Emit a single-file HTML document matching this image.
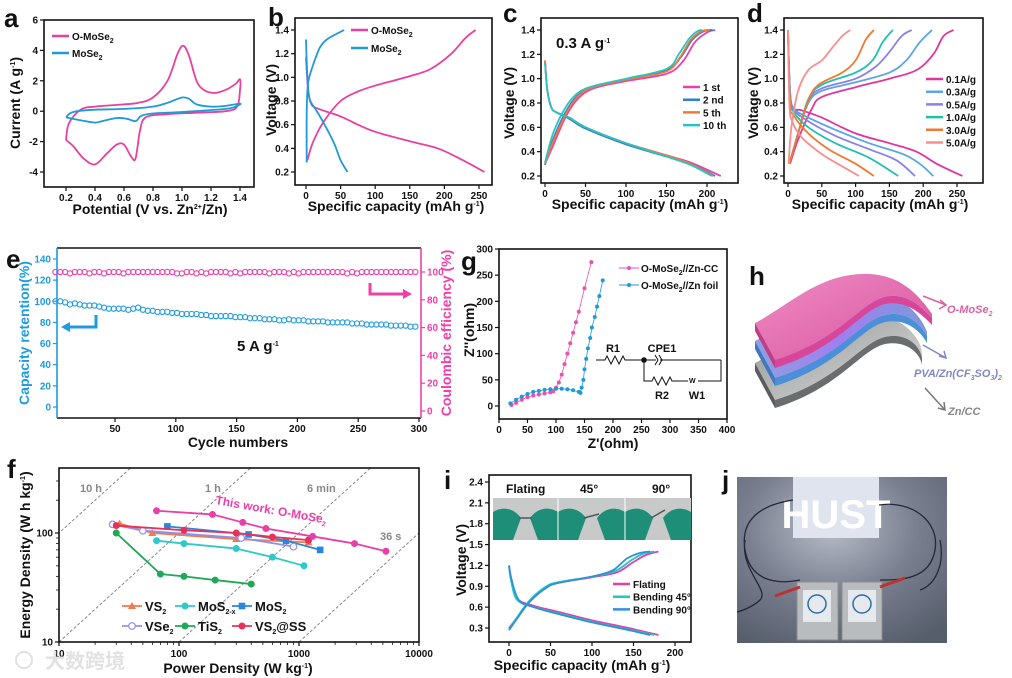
<!DOCTYPE html>
<html><head><meta charset="utf-8">
<style>
html,body{margin:0;padding:0;background:#fff;}
svg{display:block;font-family:"Liberation Sans","Noto Sans CJK SC",sans-serif;}
text{font-weight:bold;}
</style></head>
<body>
<svg id="fig" width="1012" height="678" viewBox="0 0 1012 678" xmlns="http://www.w3.org/2000/svg">
<defs>
<clipPath id="clipF"><rect x="59" y="468" width="360" height="174"/></clipPath>
<linearGradient id="gPink" x1="0" y1="0" x2="1" y2="1"><stop offset="0" stop-color="#f08cc4"/><stop offset="1" stop-color="#d6539e"/></linearGradient>
<linearGradient id="gBlue" x1="0" y1="0" x2="1" y2="0"><stop offset="0" stop-color="#8ea0e0"/><stop offset="0.5" stop-color="#a07ef0"/><stop offset="1" stop-color="#7d9ad8"/></linearGradient>
<linearGradient id="gGray" x1="0" y1="0" x2="1" y2="1"><stop offset="0" stop-color="#6f7473"/><stop offset="1" stop-color="#d8dad9"/></linearGradient>
<radialGradient id="gPhoto" cx="0.45" cy="0.3" r="0.8"><stop offset="0" stop-color="#b9bdc9"/><stop offset="0.5" stop-color="#7a8090"/><stop offset="1" stop-color="#565d6b"/></radialGradient>
</defs>
</svg>
<script>
// ---------- DATA ----------
const cvO = [[0.2,-1.9],[0.22,-0.8],[0.3,0.1],[0.4,0.3],[0.6,0.45],[0.7,0.55],[0.8,0.9],[0.9,2.0],[0.97,3.8],[1.01,4.3],[1.05,3.6],[1.1,2.0],[1.15,1.4],[1.22,1.2],[1.3,1.4],[1.37,1.8],[1.4,2.1],[1.4,1.4],[1.38,0.3],[1.3,0.0],[1.1,-0.1],[0.9,-0.2],[0.75,-0.4],[0.71,-1.3],[0.68,-3.1],[0.65,-3.0],[0.6,-2.2],[0.55,-2.2],[0.48,-2.8],[0.4,-3.5],[0.32,-3.1],[0.25,-2.3],[0.2,-1.9]];
const cvM = [[0.2,-0.4],[0.25,-0.05],[0.4,0.1],[0.6,0.15],[0.8,0.3],[0.9,0.55],[1.0,0.9],[1.05,0.8],[1.1,0.45],[1.2,0.3],[1.3,0.35],[1.4,0.5],[1.38,0.35],[1.3,0.15],[1.0,-0.05],[0.8,-0.15],[0.72,-0.3],[0.68,-0.65],[0.62,-0.5],[0.55,-0.45],[0.45,-0.65],[0.4,-0.75],[0.3,-0.6],[0.2,-0.4]];
const bOch = [[2,0.3],[10,0.45],[25,0.62],[50,0.8],[75,0.88],[100,0.93],[150,1.01],[180,1.07],[210,1.2],[230,1.33],[245,1.4]];
const bOdis = [[0,1.17],[3,0.9],[8,0.77],[20,0.73],[50,0.67],[75,0.6],[100,0.54],[150,0.46],[190,0.4],[220,0.32],[258,0.2]];
const bMch = [[1,0.28],[1,0.7],[3,0.95],[10,1.1],[20,1.25],[30,1.32],[45,1.37],[55,1.4]];
const bMdis = [[0,1.32],[2,1.0],[5,0.82],[15,0.72],[25,0.62],[40,0.45],[50,0.3],[60,0.2]];
const cLabels = ['1 st','2 nd','5 th','10 th'];
const cCharge = [
 [[0,0.3],[10,0.45],[25,0.68],[40,0.83],[60,0.92],[100,0.98],[150,1.04],[170,1.14],[185,1.3],[200,1.38],[210,1.4]],
 [[0,0.29],[10,0.5],[25,0.72],[40,0.86],[60,0.93],[100,0.99],[150,1.07],[168,1.18],[182,1.32],[196,1.39],[207,1.4]],
 [[0,0.3],[10,0.48],[25,0.7],[40,0.85],[60,0.93],[100,0.99],[150,1.06],[167,1.18],[180,1.32],[193,1.39],[203,1.4]],
 [[0,0.31],[10,0.55],[25,0.76],[40,0.88],[60,0.94],[100,1.0],[150,1.08],[165,1.2],[178,1.33],[188,1.39],[194,1.4]]];
const cDis = [
 [[0,1.15],[3,0.9],[8,0.76],[15,0.72],[30,0.68],[50,0.6],[100,0.47],[150,0.37],[180,0.31],[217,0.2]],
 [[0,1.14],[3,0.9],[8,0.76],[15,0.72],[30,0.67],[50,0.59],[100,0.46],[150,0.36],[180,0.3],[210,0.2]],
 [[0,1.15],[3,0.9],[8,0.76],[15,0.72],[30,0.68],[50,0.6],[100,0.47],[150,0.37],[180,0.3],[208,0.2]],
 [[0,1.13],[3,0.9],[8,0.76],[15,0.72],[30,0.68],[50,0.6],[100,0.47],[150,0.36],[180,0.29],[206,0.2]]];
const dLabels = ['0.1A/g','0.3A/g','0.5A/g','1.0A/g','3.0A/g','5.0A/g'];
const dCharge = [
 [[3,0.3],[15,0.5],[35,0.75],[50,0.85],[100,0.93],[150,1.0],[190,1.07],[215,1.2],[230,1.35],[245,1.4]],
 [[2,0.3],[15,0.55],[30,0.8],[50,0.9],[100,0.97],[150,1.05],[175,1.15],[195,1.3],[213,1.4]],
 [[2,0.3],[15,0.55],[30,0.82],[50,0.92],[100,1.0],[130,1.1],[150,1.22],[168,1.35],[183,1.4]],
 [[2,0.3],[15,0.55],[30,0.83],[50,0.95],[100,1.05],[125,1.15],[140,1.3],[155,1.4]],
 [[2,0.3],[15,0.55],[30,0.82],[45,0.95],[80,1.05],[100,1.15],[115,1.32],[127,1.4]],
 [[1,0.3],[5,0.6],[15,0.9],[30,1.07],[50,1.15],[65,1.25],[80,1.35],[92,1.4]]];
const dDis = [
 [[0,1.4],[2,1.0],[6,0.77],[20,0.74],[50,0.68],[100,0.55],[150,0.47],[190,0.4],[220,0.3],[258,0.2]],
 [[0,1.4],[3,0.9],[8,0.76],[30,0.68],[70,0.58],[120,0.47],[170,0.38],[195,0.3],[215,0.2]],
 [[0,1.4],[3,0.9],[8,0.75],[30,0.65],[70,0.53],[120,0.42],[160,0.33],[188,0.2]],
 [[0,1.4],[3,0.85],[8,0.73],[30,0.6],[70,0.47],[120,0.35],[163,0.2]],
 [[0,1.4],[3,0.8],[8,0.7],[30,0.55],[60,0.42],[100,0.3],[127,0.2]],
 [[0,1.4],[2,0.8],[6,0.65],[20,0.52],[50,0.38],[80,0.28],[105,0.2]]];
const eRetention = [100,100,99,97,98,97,96,96,96,95,94,93,93,93,93,92,93,94,92,91,91,90,90,90,89,89,88,88,88,88,87,87,86,86,86,86,86,85,85,85,84,84,84,83,83,83,82,82,83,82,82,82,81,81,81,81,80,80,80,80,80,79,79,79,78,78,78,78,78,77,77,77,77,76,76];
const eCE = [100,100,100,99,100,100,100,99,100,100,99,100,100,100,99,100,100,100,100,100,100,100,100,100,100,99,99,100,100,99,100,99,100,100,100,100,99,100,99,100,100,100,100,100,99,100,100,100,99,100,99,100,100,100,100,100,100,100,100,100,99,100,99,100,100,100,100,100,100,100,100,100,100,100,100];
const eCycleStart = 1, eCycleStep = 4;
const gZnCC = [[22,2],[30,6],[40,12],[50,17],[60,20],[70,22],[80,24],[90,26],[95,28],[100,35],[105,45],[110,60],[115,80],[120,100],[125,120],[130,140],[135,160],[140,180],[150,225],[162,275]];
const gZnFoil = [[20,5],[30,12],[40,18],[50,23],[60,27],[70,29],[80,31],[90,32],[100,33],[110,33],[120,32],[130,30],[140,27],[143,25],[145,35],[148,50],[150,70],[153,90],[156,110],[160,130],[163,150],[168,170],[172,190],[176,210],[182,240]];
const fThisWork = [[65,160],[190,148],[340,125],[530,110],[1300,93],[2900,80],[5300,68]];
const fVS2 = [[32,122],[60,100],[300,88],[1200,82]];
const fMoS2x = [[65,85],[110,80],[300,72],[600,60],[1100,50]];
const fMoS2 = [[80,115],[380,97],[780,85],[1500,70]];
const fVSe2 = [[28,120],[50,105],[330,90],[900,75]];
const fTiS2 = [[30,100],[70,42],[110,40],[200,37],[400,34]];
const fVS2SS = [[30,117],[110,106],[300,100],[600,92],[1200,86]];
const fTimes = [10,1,0.1,0.01];
const fTimeLabels = ['10 h','1 h','6 min','36 s'];
const iLabels = ['Flating','Bending 45°','Bending 90°'];
const iCharge = [
 [[0,0.3],[10,0.45],[25,0.68],[45,0.88],[60,0.95],[100,1.03],[130,1.1],[150,1.25],[165,1.35],[180,1.4]],
 [[0,0.28],[10,0.46],[25,0.7],[45,0.9],[60,0.96],[100,1.04],[128,1.12],[148,1.28],[162,1.37],[175,1.4]],
 [[0,0.27],[10,0.44],[25,0.68],[45,0.88],[60,0.95],[100,1.04],[125,1.13],[142,1.3],[158,1.38],[170,1.4]]];
const iDis = [
 [[0,1.2],[3,1.0],[10,0.72],[30,0.62],[60,0.53],[100,0.41],[140,0.31],[180,0.2]],
 [[0,1.18],[3,0.95],[10,0.7],[30,0.6],[60,0.51],[100,0.39],[140,0.29],[175,0.2]],
 [[0,1.2],[3,1.0],[12,0.7],[30,0.6],[60,0.5],[100,0.38],[140,0.28],[170,0.2]]];

// ---------- HELPERS ----------
const NS = 'http://www.w3.org/2000/svg';
const svg = document.getElementById('fig');
function mk(tag, attrs, name, parent){
  const el = document.createElementNS(NS, tag);
  for (const k in attrs) el.setAttribute(k, attrs[k]);
  
  
  (parent || svg).appendChild(el);
  return el;
}
function txt(x, y, s, size, name, opts){
  opts = opts || {};
  const a = {x:x, y:y, 'font-size':size, fill:opts.fill||'#111', 'text-anchor':opts.anchor||'start'};
  if (opts.rot !== undefined) a.transform = 'rotate(' + opts.rot + ' ' + x + ' ' + y + ')';
  if (opts.italic) a['font-style'] = 'italic';
  if (opts.normal) a['font-weight'] = 'normal';
  const el = mk('text', a, name, opts.parent);
  el.innerHTML = s;
  return el;
}
function lin(d0, d1, r0, r1){ return v => r0 + (v - d0) / (d1 - d0) * (r1 - r0); }
function logs(d0, d1, r0, r1){ return v => r0 + (Math.log10(v) - Math.log10(d0)) / (Math.log10(d1) - Math.log10(d0)) * (r1 - r0); }
function smooth(p){
  let d = 'M' + p[0][0].toFixed(1) + ',' + p[0][1].toFixed(1);
  for (let i = 0; i < p.length - 1; i++){
    const p0 = p[i-1] || p[i], p1 = p[i], p2 = p[i+1], p3 = p[i+2] || p2;
    const c1 = [p1[0] + (p2[0]-p0[0])/6, p1[1] + (p2[1]-p0[1])/6];
    const c2 = [p2[0] - (p3[0]-p1[0])/6, p2[1] - (p3[1]-p1[1])/6];
    d += ' C' + c1[0].toFixed(1)+','+c1[1].toFixed(1)+' '+c2[0].toFixed(1)+','+c2[1].toFixed(1)+' '+p2[0].toFixed(1)+','+p2[1].toFixed(1);
  }
  return d;
}
function curve(data, xs, ys, color, w, name){
  const pts = data.map(d => [xs(d[0]), ys(d[1])]);
  return mk('path', {d: smooth(pts), fill:'none', stroke:color, 'stroke-width':w, 'stroke-linejoin':'round'}, name);
}
const sub = s => '<tspan font-size="7" baseline-shift="-3">' + s + '</tspan>';
const sup = s => '<tspan font-size="7" baseline-shift="5">' + s + '</tspan>';
function frame(x0, y0, x1, y1, name, color){
  mk('rect', {x:x0, y:y0, width:x1-x0, height:y1-y0, fill:'none', stroke:color||'#111', 'stroke-width':1.6}, name);
}
function xTicks(vals, xs, y, name, fmt, color){
  vals.forEach(v => {
    const x = xs(v);
    mk('line', {x1:x, x2:x, y1:y, y2:y+4, stroke:color||'#111', 'stroke-width':1.2}, name + '-tick');
    txt(x, y + 14, fmt ? fmt(v) : String(v), 10, name + '-label', {anchor:'middle', fill:color});
  });
}
function yTicks(vals, ys, x, name, fmt, color, right){
  vals.forEach(v => {
    const y = ys(v);
    mk('line', {x1:x, x2: right ? x+4 : x-4, y1:y, y2:y, stroke:color||'#111', 'stroke-width':1.2}, name + '-tick');
    txt(right ? x+6 : x-6, y + 3.5, fmt ? fmt(v) : String(v), 10, name + '-label', {anchor: right ? 'start' : 'end', fill:color});
  });
}
function legLine(x, y, color, label, name, size){
  mk('line', {x1:x, x2:x+17, y1:y, y2:y, stroke:color, 'stroke-width':2.5}, name + '-swatch');
  txt(x + 20, y + 4, label, size || 10, name + '-label');
}

// ---------- PANEL A ----------
(function(){
  const xs = lin(0.2, 1.4, 66, 240), ys = lin(6, -4, 20, 172);
  txt(4, 27, 'a', 26, 'panel-a-letter');
  frame(44, 20, 254, 187, 'panel-a-frame');
  xTicks([0.2,0.4,0.6,0.8,1.0,1.2,1.4], xs, 187, 'panel-a-x', v => v.toFixed(1));
  yTicks([-4,-2,0,2,4,6], ys, 44, 'panel-a-y');
  curve(cvO, xs, ys, '#e8409f', 1.8, 'cv-o-mose2');
  curve(cvM, xs, ys, '#1e9ad6', 1.8, 'cv-mose2');
  legLine(52, 36, '#e8409f', 'O-MoSe' + sub('2'), 'legend-a-omose2');
  legLine(52, 53, '#1e9ad6', 'MoSe' + sub('2'), 'legend-a-mose2');
  txt(20, 103, 'Current (A g' + sup('-1') + ')', 14, 'panel-a-y-title', {anchor:'middle', rot:-90});
  txt(150, 214, 'Potential (V vs. Zn' + sup('2+') + '/Zn)', 14, 'panel-a-x-title', {anchor:'middle'});
})();

// ---------- PANEL B ----------
(function(){
  const xs = lin(0, 250, 306, 479), ys = lin(1.4, 0.2, 30, 172);
  txt(268, 26, 'b', 26, 'panel-b-letter');
  frame(295, 18, 492, 185, 'panel-b-frame');
  xTicks([0,50,100,150,200,250], xs, 185, 'panel-b-x');
  yTicks([0.2,0.4,0.6,0.8,1.0,1.2,1.4], ys, 295, 'panel-b-y', v => v.toFixed(1));
  curve(bOch, xs, ys, '#e8409f', 1.8, 'b-o-mose2-charge');
  curve(bOdis, xs, ys, '#e8409f', 1.8, 'b-o-mose2-discharge');
  curve(bMch, xs, ys, '#1e9ad6', 1.8, 'b-mose2-charge');
  curve(bMdis, xs, ys, '#1e9ad6', 1.8, 'b-mose2-discharge');
  legLine(351, 30, '#e8409f', 'O-MoSe' + sub('2'), 'legend-b-omose2');
  legLine(351, 48, '#1e9ad6', 'MoSe' + sub('2'), 'legend-b-mose2');
  txt(276, 100, 'Voltage (V)', 14, 'panel-b-y-title', {anchor:'middle', rot:-90});
  txt(396, 211, 'Specific capacity (mAh g' + sup('-1') + ')', 14, 'panel-b-x-title', {anchor:'middle'});
})();

// ---------- PANEL C ----------
(function(){
  const xs = lin(0, 200, 545, 707), ys = lin(1.4, 0.2, 30, 176);
  const cols = ['#e83fae','#2f7fd0','#f07a3a','#27c4c4'];
  txt(503, 22, 'c', 26, 'panel-c-letter');
  frame(541, 18, 738, 183, 'panel-c-frame');
  xTicks([0,50,100,150,200], xs, 183, 'panel-c-x');
  yTicks([0.2,0.4,0.6,0.8,1.0,1.2,1.4], ys, 541, 'panel-c-y', v => v.toFixed(1));
  for (let i = 0; i < cCharge.length; i++){
    curve(cCharge[i], xs, ys, cols[i], 1.8, 'c-charge-' + i);
    curve(cDis[i], xs, ys, cols[i], 1.8, 'c-discharge-' + i);
  }
  cLabels.forEach((l, i) => legLine(683, 87 + i*12.7, cols[i], l, 'legend-c-' + i));
  txt(556, 48, '0.3 A g' + sup('-1'), 15, 'panel-c-rate-label');
  txt(514, 103, 'Voltage (V)', 14, 'panel-c-y-title', {anchor:'middle', rot:-90});
  txt(640, 209, 'Specific capacity (mAh g' + sup('-1') + ')', 14, 'panel-c-x-title', {anchor:'middle'});
})();

// ---------- PANEL D ----------
(function(){
  const xs = lin(0, 250, 788, 957), ys = lin(1.4, 0.2, 30, 176);
  const cols = ['#e0359e','#5aa5e8','#8a80e8','#20c0b0','#f07830','#f59090'];
  txt(747, 22, 'd', 26, 'panel-d-letter');
  frame(784, 18, 983, 183, 'panel-d-frame');
  xTicks([0,50,100,150,200,250], xs, 183, 'panel-d-x');
  yTicks([0.2,0.4,0.6,0.8,1.0,1.2,1.4], ys, 784, 'panel-d-y', v => v.toFixed(1));
  for (let i = 0; i < dCharge.length; i++){
    curve(dCharge[i], xs, ys, cols[i], 1.8, 'd-charge-' + i);
    curve(dDis[i], xs, ys, cols[i], 1.8, 'd-discharge-' + i);
  }
  dLabels.forEach((l, i) => legLine(926, 79 + i*12.7, cols[i], l, 'legend-d-' + i));
  txt(758, 103, 'Voltage (V)', 14, 'panel-d-y-title', {anchor:'middle', rot:-90});
  txt(880, 209, 'Specific capacity (mAh g' + sup('-1') + ')', 14, 'panel-d-x-title', {anchor:'middle'});
})();

// ---------- PANEL E ----------
(function(){
  const blue = '#1e9be0', pink = '#f03fa8';
  const xs = lin(50, 300, 115, 419), ysL = lin(140, 0, 259, 407), ysR = lin(100, 0, 272, 411);
  txt(6, 268, 'e', 26, 'panel-e-letter');
  mk('line', {x1:57, x2:421, y1:248, y2:248, stroke:'#111', 'stroke-width':1.6}, 'panel-e-top-axis');
  mk('line', {x1:57, x2:421, y1:418, y2:418, stroke:'#111', 'stroke-width':1.6}, 'panel-e-bottom-axis');
  mk('line', {x1:57, x2:57, y1:248, y2:418, stroke:blue, 'stroke-width':1.6}, 'panel-e-left-axis');
  mk('line', {x1:421, x2:421, y1:248, y2:418, stroke:pink, 'stroke-width':1.6}, 'panel-e-right-axis');
  xTicks([50,100,150,200,250,300], xs, 418, 'panel-e-x');
  yTicks([0,20,40,60,80,100,120,140], ysL, 57, 'panel-e-yleft', null, blue);
  yTicks([0,20,40,60,80,100], ysR, 421, 'panel-e-yright', null, pink, true);
  eRetention.forEach((v, i) => {
    const c = eCycleStart + i * eCycleStep;
    mk('circle', {cx:xs(c), cy:ysL(v), r:2.6, fill:'none', stroke:blue, 'stroke-width':1.1}, 'retention-point');
  });
  eCE.forEach((v, i) => {
    const c = eCycleStart + i * eCycleStep;
    mk('circle', {cx:xs(c), cy:ysR(v), r:2.6, fill:'none', stroke:pink, 'stroke-width':1.1}, 'ce-point');
  });
  mk('path', {d:'M96,315 L96,327 L68,327', fill:'none', stroke:blue, 'stroke-width':3}, 'retention-axis-arrow');
  mk('path', {d:'M70,322 L61,327 L70,332 Z', fill:blue}, 'retention-arrow-head');
  mk('path', {d:'M370,283 L370,294 L404,294', fill:'none', stroke:pink, 'stroke-width':3}, 'ce-axis-arrow');
  mk('path', {d:'M403,289 L412,294 L403,299 Z', fill:pink}, 'ce-arrow-head');
  txt(237, 351, '5 A g' + sup('-1'), 15, 'panel-e-rate-label');
  txt(29, 333, 'Capacity retention(%)', 14, 'panel-e-yleft-title', {anchor:'middle', rot:-90, fill:blue});
  txt(451, 333, 'Coulombic efficiency (%)', 14, 'panel-e-yright-title', {anchor:'middle', rot:-90, fill:pink});
  txt(238, 447, 'Cycle numbers', 14, 'panel-e-x-title', {anchor:'middle'});
})();

// ---------- PANEL G ----------
(function(){
  const xs = lin(0, 400, 499, 727), ys = lin(0, 300, 406, 249);
  txt(461, 270, 'g', 26, 'panel-g-letter');
  frame(499, 249, 727, 419, 'panel-g-frame');
  xTicks([0,50,100,150,200,250,300,350,400], xs, 419, 'panel-g-x');
  yTicks([0,50,100,150,200,250,300], ys, 499, 'panel-g-y');
  const series = [[gZnCC,'#ee4fae','nyquist-zn-cc'],[gZnFoil,'#1e9ad6','nyquist-zn-foil']];
  series.forEach(s => {
    mk('polyline', {points: s[0].map(d => xs(d[0]) + ',' + ys(d[1])).join(' '), fill:'none', stroke:s[1], 'stroke-width':0.8}, s[2] + '-line');
    s[0].forEach(d => mk('circle', {cx:xs(d[0]), cy:ys(d[1]), r:2, fill:s[1]}, s[2] + '-point'));
  });
  mk('line', {x1:619, x2:639, y1:268, y2:268, stroke:'#ee4fae', 'stroke-width':1}, 'legend-g-cc-line');
  mk('circle', {cx:629, cy:268, r:2, fill:'#ee4fae'}, 'legend-g-cc-marker');
  txt(641, 272, 'O-MoSe' + sub('2') + '//Zn-CC', 10, 'legend-g-cc-label');
  mk('line', {x1:619, x2:639, y1:285, y2:285, stroke:'#1e9ad6', 'stroke-width':1}, 'legend-g-foil-line');
  mk('circle', {cx:629, cy:285, r:2, fill:'#1e9ad6'}, 'legend-g-foil-marker');
  txt(641, 289, 'O-MoSe' + sub('2') + '//Zn foil', 10, 'legend-g-foil-label');
  mk('path', {d:'M596,360 L605,360 L607,356 L611,364 L615,356 L619,364 L623,356 L625,360 L644,360 L656,360 M660,360 L721,360 M721,360 L721,381 L698,381 M644,360 L644,381 L652,381 L654,377 L658,385 L662,377 L666,385 L670,377 L672,381 L688,381', fill:'none', stroke:'#111', 'stroke-width':1}, 'equivalent-circuit');
  mk('path', {d:'M655,355 L658,360 L655,365 M659,355 L662,360 L659,365', fill:'none', stroke:'#111', 'stroke-width':1}, 'cpe-symbol');
  mk('circle', {cx:644, cy:360, r:2.8, fill:'#111'}, 'circuit-node');
  txt(689, 383, 'W', 7, 'w1-symbol', {normal:true});
  txt(613, 352, 'R1', 11, 'circuit-r1-label', {anchor:'middle'});
  txt(662, 352, 'CPE1', 11, 'circuit-cpe1-label', {anchor:'middle'});
  txt(662, 399, 'R2', 11, 'circuit-r2-label', {anchor:'middle'});
  txt(697, 399, 'W1', 11, 'circuit-w1-label', {anchor:'middle'});
  txt(474, 330, 'Z\'\'(ohm)', 14, 'panel-g-y-title', {anchor:'middle', rot:-90});
  txt(613, 448, 'Z\'(ohm)', 14, 'panel-g-x-title', {anchor:'middle'});
})();

// ---------- PANEL H ----------
(function(){
  txt(749, 285, 'h', 26, 'panel-h-letter');
  const layers = [
    {dy:40, surf:'url(#gGray)', band:'#6a6d6d', side:'#5a5d5d', end:922, name:'zn-cc-layer'},
    {dy:18, surf:'url(#gBlue)', band:'#4a8fd8', side:'#3d78c0', end:927, name:'electrolyte-layer'},
    {dy:0, surf:'url(#gPink)', band:'#d8469a', side:'#c23d87', end:932, name:'o-mose2-layer'}];
  layers.forEach(L => {
    const g = mk('g', {transform:'translate(0,' + L.dy + ')'}, L.name);
    const e = L.end;
    mk('path', {d:'M755,323 C790,305 820,272 870,274 C905,276 922,300 ' + e + ',314 L' + e + ',318 C920,305 905,292 885,297 C860,303 840,340 775,360 Z', fill:L.surf, opacity: L.dy===40 ? 0.8 : 1}, L.name + '-surface', g);
    mk('path', {d:'M775,360 C840,340 860,303 885,297 C905,292 920,305 ' + e + ',318 L' + e + ',325 C920,312 905,300 885,304 C860,310 840,348 775,368 Z', fill:L.band}, L.name + '-edge', g);
    mk('path', {d:'M755,323 L775,360 L775,368 L755,331 Z', fill:L.side}, L.name + '-side', g);
  });
  mk('path', {d:'M923,296 L946,305 M940,300 L946,305 L939,309', fill:'none', stroke:'#e0609f', 'stroke-width':1.5}, 'o-mose2-arrow');
  txt(947, 313, 'O-MoSe' + sub('2'), 11, 'o-mose2-label', {italic:true, fill:'#e0609f'});
  mk('path', {d:'M923,345 L946,358 M939,356 L946,358 L944,351', fill:'none', stroke:'#7f88c8', 'stroke-width':1.5}, 'electrolyte-arrow');
  txt(914, 377, 'PVA/Zn(CF' + sub('3') + 'SO' + sub('3') + ')' + sub('2'), 11, 'electrolyte-label', {italic:true, fill:'#8088c8'});
  mk('path', {d:'M925,388 L945,410 M944,402 L945,410 L938,408', fill:'none', stroke:'#777', 'stroke-width':1.5}, 'zn-cc-arrow');
  txt(948, 415, 'Zn/CC', 11, 'zn-cc-label', {italic:true, fill:'#888'});
})();

// ---------- PANEL F ----------
(function(){
  const xs = logs(10, 10000, 59, 419), ys = logs(10, 100, 642, 533);
  txt(7, 478, 'f', 26, 'panel-f-letter');
  fTimes.forEach((t, i) => {
    mk('line', {x1:xs(10/t), y1:ys(10), x2:xs(1000/t), y2:ys(1000), stroke:'#888', 'stroke-width':1, 'stroke-dasharray':'3,2', 'clip-path':'url(#clipF)'}, 'time-line-' + i);
  });
  frame(59, 468, 419, 642, 'panel-f-frame');
  [10,100,1000,10000].forEach(v => {
    mk('line', {x1:xs(v), x2:xs(v), y1:642, y2:646, stroke:'#111', 'stroke-width':1.2}, 'panel-f-x-tick');
    txt(xs(v), 657, String(v), 10, 'panel-f-x-label', {anchor:'middle'});
  });
  [20,30,40,50,60,70,80,90,200,300,400,500,600,700,800,900,2000,3000,4000,5000,6000,7000,8000,9000].forEach(v => {
    mk('line', {x1:xs(v), x2:xs(v), y1:642, y2:645, stroke:'#111', 'stroke-width':0.8}, 'panel-f-x-minor');
  });
  [10,100].forEach(v => {
    mk('line', {x1:55, x2:59, y1:ys(v), y2:ys(v), stroke:'#111', 'stroke-width':1.2}, 'panel-f-y-tick');
    txt(53, ys(v) + 3.5, String(v), 10, 'panel-f-y-label', {anchor:'end'});
  });
  [20,30,40,50,60,70,80,90,200,300].forEach(v => {
    mk('line', {x1:56, x2:59, y1:ys(v), y2:ys(v), stroke:'#111', 'stroke-width':0.8}, 'panel-f-y-minor');
  });
  txt(80, 492, fTimeLabels[0], 11, 'time-label-10h', {fill:'#888'});
  txt(205, 492, fTimeLabels[1], 11, 'time-label-1h', {fill:'#888'});
  txt(307, 492, fTimeLabels[2], 11, 'time-label-6min', {fill:'#888'});
  txt(380, 540, fTimeLabels[3], 11, 'time-label-36s', {fill:'#888'});
  const S = [
    [fVS2,'#f07a4a','tri','VS' + sub('2'),'vs2'],
    [fMoS2x,'#30c8c8','circ','MoS' + sub('2-x'),'mos2x'],
    [fMoS2,'#2a86d8','sq','MoS' + sub('2'),'mos2'],
    [fVSe2,'#8f8ff0','open','VSe' + sub('2'),'vse2'],
    [fTiS2,'#20a858','circ','TiS' + sub('2'),'tis2'],
    [fVS2SS,'#e8305a','circ','VS' + sub('2') + '@SS','vs2ss'],
    [fThisWork,'#e840a8','circ',null,'this-work']];
  function marker(x, y, type, c, name){
    if (type === 'tri') mk('path', {d:'M'+x+','+(y-4)+' L'+(x+4)+','+(y+3)+' L'+(x-4)+','+(y+3)+' Z', fill:c}, name);
    else if (type === 'sq') mk('rect', {x:x-3.3, y:y-3.3, width:6.6, height:6.6, fill:c}, name);
    else if (type === 'open') mk('circle', {cx:x, cy:y, r:3.3, fill:'#fff', stroke:c, 'stroke-width':1.2}, name);
    else mk('circle', {cx:x, cy:y, r:3.5, fill:c}, name);
  }
  S.forEach(s => {
    mk('polyline', {points: s[0].map(d => xs(d[0]) + ',' + ys(d[1])).join(' '), fill:'none', stroke:s[1], 'stroke-width':1.8}, 'ragone-' + s[4] + '-line');
    s[0].forEach(d => marker(xs(d[0]), ys(d[1]), s[2], s[1], 'ragone-' + s[4] + '-point'));
  });
  const leg = [[122,606],[175,606],[232,606],[122,626],[175,626],[232,626]];
  for (let i = 0; i < 6; i++){
    const s = S[i], p = leg[i];
    mk('line', {x1:p[0], x2:p[0]+20, y1:p[1], y2:p[1], stroke:s[1], 'stroke-width':1.8}, 'legend-f-' + s[4] + '-line');
    marker(p[0]+10, p[1], s[2], s[1], 'legend-f-' + s[4] + '-marker');
    txt(p[0]+23, p[1]+5, s[3], 13, 'legend-f-' + s[4] + '-label');
  }
  txt(215, 504, 'This work: O-MoSe' + sub('2'), 12, 'this-work-label', {fill:'#e840a8', rot:10});
  txt(30, 555, 'Energy Density (W h kg' + sup('-1') + ')', 14, 'panel-f-y-title', {anchor:'middle', rot:-90});
  txt(238, 673, 'Power Density (W kg' + sup('-1') + ')', 14, 'panel-f-x-title', {anchor:'middle'});
  txt(45, 668, '大数跨境', 20, 'watermark', {fill:'#e2e2e2', normal:true});
  mk('circle', {cx:24, cy:660, r:8, fill:'none', stroke:'#e2e2e2', 'stroke-width':2}, 'watermark-logo');
})();

// ---------- PANEL I ----------
(function(){
  const xs = lin(0, 200, 509, 675), ys = lin(2.4, 0.3, 482, 628);
  const cols = ['#e040a8','#20c8c0','#3090d8'];
  txt(444, 489, 'i', 26, 'panel-i-letter');
  frame(489, 475, 691, 642, 'panel-i-frame');
  xTicks([0,50,100,150,200], xs, 642, 'panel-i-x');
  yTicks([0.3,0.6,0.9,1.2,1.5,1.8,2.1,2.4], ys, 489, 'panel-i-y', v => v.toFixed(1));
  mk('rect', {x:493, y:498, width:198, height:42, fill:'#c7cac9'}, 'bending-photo-inset');
  [[493,558],[558,625],[625,691]].forEach((f, k) => {
    mk('path', {d:'M'+f[0]+',540 L'+f[0]+',512 C'+(f[0]+12)+',505 '+(f[0]+22)+',510 '+(f[0]+28)+',518 L'+(f[0]+20)+',540 Z', fill:'#1f8e78'}, 'glove-left');
    mk('path', {d:'M'+f[1]+',540 L'+f[1]+',512 C'+(f[1]-12)+',505 '+(f[1]-22)+',510 '+(f[1]-28)+',518 L'+(f[1]-20)+',540 Z', fill:'#1f8e78'}, 'glove-right');
    mk('line', {x1:f[0]+26, y1:518, x2:f[1]-26, y2:518 - k*4, stroke:'#555', 'stroke-width':1.5}, 'battery-strip');
    if (k > 0) mk('line', {x1:f[0], x2:f[0], y1:498, y2:540, stroke:'#fff', 'stroke-width':1}, 'photo-divider');
  });
  txt(506, 493, 'Flating', 12, 'photo-label-flat');
  txt(580, 493, '45°', 12, 'photo-label-45');
  txt(652, 493, '90°', 12, 'photo-label-90');
  for (let i = 0; i < iCharge.length; i++){
    curve(iCharge[i], xs, ys, cols[i], 1.8, 'i-charge-' + i);
    curve(iDis[i], xs, ys, cols[i], 1.8, 'i-discharge-' + i);
  }
  iLabels.forEach((l, i) => legLine(613, 584 + i*12.7, cols[i], l, 'legend-i-' + i));
  txt(466, 560, 'Voltage (V)', 14, 'panel-i-y-title', {anchor:'middle', rot:-90});
  txt(582, 670, 'Specific capacity (mAh g' + sup('-1') + ')', 14, 'panel-i-x-title', {anchor:'middle'});
})();

// ---------- PANEL J ----------
(function(){
  mk('rect', {x:737, y:477, width:210, height:166, fill:'url(#gPhoto)'}, 'led-demo-photo');
  txt(722, 489, 'j', 26, 'panel-j-letter');
  mk('rect', {x:793, y:477, width:86, height:61, fill:'#dfe4ee'}, 'led-board');
  txt(836, 528, 'HUST', 40, 'led-hust-text', {anchor:'middle', fill:'#ffffff', normal:true});
  mk('path', {d:'M793,500 C760,505 740,520 745,550 C750,580 775,585 800,580 M745,540 C740,570 770,590 760,600 C755,605 745,610 737,612', fill:'none', stroke:'#23283a', 'stroke-width':1.3}, 'wire-left');
  mk('path', {d:'M879,505 C910,500 940,520 935,550 C930,580 900,580 880,580 M940,540 C945,565 935,585 920,590', fill:'none', stroke:'#23283a', 'stroke-width':1.3}, 'wire-right');
  mk('rect', {x:797, y:582, width:41, height:58, fill:'#b9bcbf', stroke:'#8a8d90'}, 'pouch-cell-1');
  mk('rect', {x:842, y:582, width:40, height:58, fill:'#b9bcbf', stroke:'#8a8d90'}, 'pouch-cell-2');
  mk('rect', {x:803, y:590, width:28, height:32, fill:'#e6e9ee'}, 'cell-label-1');
  mk('rect', {x:848, y:590, width:28, height:32, fill:'#e6e9ee'}, 'cell-label-2');
  mk('circle', {cx:817, cy:604, r:9, fill:'none', stroke:'#2e6ea8', 'stroke-width':1.5}, 'cell-logo-1');
  mk('circle', {cx:862, cy:604, r:9, fill:'none', stroke:'#2e6ea8', 'stroke-width':1.5}, 'cell-logo-2');
  mk('line', {x1:800, y1:587, x2:775, y2:596, stroke:'#c03030', 'stroke-width':3}, 'clip-left');
  mk('line', {x1:880, y1:587, x2:905, y2:578, stroke:'#c03030', 'stroke-width':3}, 'clip-right');
})();
</script>
</body></html>
